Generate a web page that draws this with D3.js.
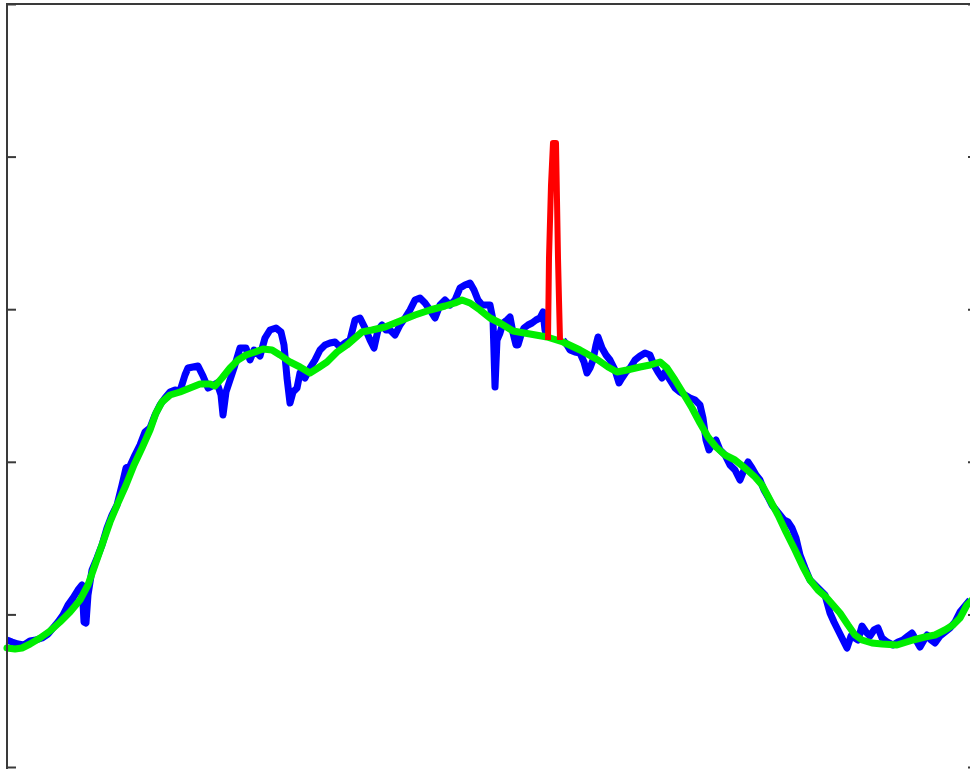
<!DOCTYPE html>
<html>
<head>
<meta charset="utf-8">
<script src="https://cdn.jsdelivr.net/npm/d3@7/dist/d3.min.js"></script>
<style>
  html, body { margin: 0; padding: 0; background: #fff; overflow: hidden; }
  svg { display: block; }
</style>
</head>
<body>
<script>
// Raw signal (blue), split at the burst that is plotted separately in red
const rawX1 = [0,5,11,17,23,29,35,41,46,51,56,61,66,71,75,77,79,81,85,90,95,100,105,110,115,119,123,128,133,138,143,148,153,158,163,168,173,178,181,186,191,196,201,205,210,214,216,219,223,227,233,239,243,247,253,258,263,269,274,277,280,283,286,290,293,298,303,308,313,318,323,328,333,338,343,348,353,358,363,367,371,375,379,383,388,393,398,403,408,413,418,423,428,433,438,443,448,453,458,463,467,471,475,479,483,486,488,490,493,496,500,503,506,509,511,514,517,521,525,529,533,536,538,540];
const rawY1 = [127,125,123,122,126,127,129,133,139,145,152,162,169,177,182,145,144,172,197,209,222,239,252,262,282,299,301,312,322,335,339,352,362,369,375,377,376,392,399,400,401,391,379,381,384,372,352,375,387,399,419,419,407,417,411,429,437,439,435,422,389,364,375,379,394,389,399,407,417,422,424,425,420,424,427,447,449,439,427,419,437,442,437,437,432,442,449,457,467,469,464,457,449,462,467,462,467,479,482,484,477,467,462,462,462,447,380,427,434,444,447,450,434,422,422,432,439,442,444,447,449,455,437,429];
const rawX2 = [556,560,563,568,573,577,580,583,586,589,591,595,599,603,608,612,615,619,623,628,633,638,643,647,651,655,658,663,668,673,678,683,688,693,696,699,702,705,709,713,718,723,728,733,737,741,745,749,753,757,761,765,769,773,777,781,785,789,793,798,803,808,813,818,823,827,831,836,840,844,848,851,855,859,863,867,871,875,880,886,891,896,901,905,909,913,917,920,924,928,933,938,943,948,953,958,963];
const rawY2 = [427,422,417,415,414,405,394,399,407,422,430,419,412,407,397,384,389,395,399,407,411,414,412,402,395,389,395,387,379,375,372,369,367,362,349,327,317,322,327,317,312,302,297,287,297,305,299,292,287,277,270,262,257,252,247,245,239,229,212,199,187,182,177,172,154,145,137,127,119,131,129,127,141,135,131,137,139,129,125,122,125,127,131,134,127,120,127,132,127,124,131,135,139,145,155,161,167];

// Smoothed trend (green)
const trendX = [0,8,15,23,33,43,53,63,73,81,88,95,103,111,119,127,135,143,149,155,163,173,183,193,203,208,215,223,231,239,248,256,265,273,283,293,303,311,320,330,340,348,355,365,378,393,408,423,438,448,455,463,473,483,493,506,523,540,556,573,591,601,610,620,633,643,653,660,668,676,685,693,701,709,718,728,738,748,755,763,771,779,788,796,803,811,819,826,833,841,848,855,865,875,890,906,918,928,938,946,953,960,965];
const trendY = [119,118,119,123,129,136,145,155,167,182,202,222,245,264,282,302,319,337,354,365,372,375,379,383,383,381,389,399,407,412,415,418,417,412,405,400,394,399,405,415,422,429,435,437,440,446,452,457,461,464,467,464,457,449,444,436,433,430,425,417,407,400,395,397,400,402,405,399,387,374,359,344,330,320,312,307,299,290,282,267,252,235,217,200,187,177,170,162,154,142,132,127,124,123,122,127,130,132,137,142,149,162,167];

// Burst segment (red)
const burstX = [541,542,544,546,549,550,551,552,553];
const burstY = [427,509,582,624,624,567,509,467,427];

// Tick positions on the value axis (unlabelled)
const yTicks = [0, 152.6, 305.2, 457.8, 610.4, 763];

const W = 970, H = 769;
const frame = { left: 7, top: 4, right: 977, bottom: 800 };

const x = d3.scaleLinear().domain([0, 970]).range([frame.left, frame.right]);
const y = d3.scaleLinear().domain([0, 763]).range([767, frame.top]);

const svg = d3.select("body").append("svg")
  .attr("width", W).attr("height", H);

const line = d3.line()
  .x(d => x(d[0]))
  .y(d => y(d[1]));

const zip = (xs, ys) => xs.map((v, i) => [v, ys[i]]);

const plot = svg.append("g");

// raw signal
[zip(rawX1, rawY1), zip(rawX2, rawY2)].forEach(pts => {
  plot.append("path")
    .attr("d", line(pts))
    .attr("fill", "none")
    .attr("stroke", "#0000ff")
    .attr("stroke-width", 7)
    .attr("stroke-linejoin", "round")
    .attr("stroke-linecap", "butt");
});

// trend
plot.append("path")
  .attr("d", line(zip(trendX, trendY)))
  .attr("fill", "none")
  .attr("stroke", "#00ee00")
  .attr("stroke-width", 7)
  .attr("stroke-linejoin", "round")
  .attr("stroke-linecap", "round");

// burst
plot.append("path")
  .attr("d", line(zip(burstX, burstY)))
  .attr("fill", "none")
  .attr("stroke", "#ff0000")
  .attr("stroke-width", 6)
  .attr("stroke-linejoin", "round")
  .attr("stroke-linecap", "butt");

// frame
svg.append("rect")
  .attr("x", frame.left).attr("y", frame.top)
  .attr("width", frame.right - frame.left).attr("height", frame.bottom - frame.top)
  .attr("fill", "none")
  .attr("stroke", "#3a3a3a")
  .attr("stroke-width", 2);

// inward ticks on both sides
const yAxisL = d3.axisRight(y).tickValues(yTicks).tickSize(9).tickFormat("");
const yAxisR = d3.axisLeft(y).tickValues(yTicks).tickSize(9).tickFormat("");
[[yAxisL, frame.left], [yAxisR, frame.right]].forEach(([ax, px]) => {
  const g = svg.append("g").attr("transform", `translate(${px},0)`).call(ax);
  g.select(".domain").remove();
  g.selectAll(".tick line").attr("stroke", "#3a3a3a").attr("stroke-width", 2);
});
</script>
</body>
</html>
